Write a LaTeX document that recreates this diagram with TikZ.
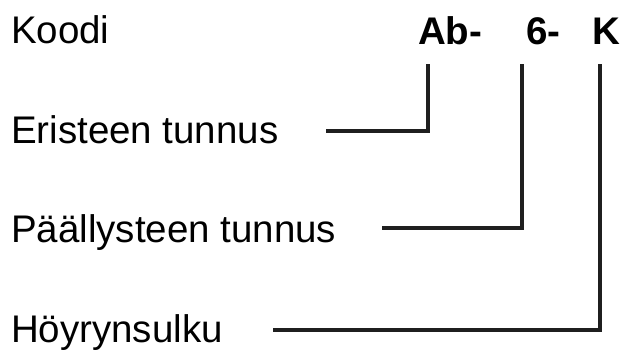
\documentclass[tikz,border=0pt]{standalone}
\usepackage{fontspec}
\setmainfont{Liberation Sans}
\begin{document}
\begin{tikzpicture}[x=1pt,y=-1pt,
  lbl/.style={anchor=base west,inner sep=0pt,outer sep=0pt,font=\fontsize{38.5}{46}\selectfont},
  code/.style={lbl,font=\fontsize{38.5}{46}\selectfont\bfseries},
  conn/.style={line width=3.7pt,color=black!88,line cap=rect,line join=miter}]
\useasboundingbox (0,0) rectangle (621,350);
\node[lbl] (koodi) at (11,44) {Koodi};
\node[lbl] (eris) at (11,143) {Eristeen tunnus};
\node[lbl] (paal) at (11,242.5) {Päällysteen tunnus};
\node[lbl] (hoyr) at (11,342) {Höyrynsulku};
\node[code] (ab) at (418,45) {Ab-};
\node[code] (six) at (526,45) {6-};
\node[code] (kk) at (592,45) {K};
\coordinate (s1) at (328,131);
\coordinate (t1) at (428,66);
\coordinate (s2) at (384,228);
\coordinate (t2) at (522,66);
\coordinate (s3) at (275,330);
\coordinate (t3) at (600,66);
\draw[conn] (s1) -| (t1);
\draw[conn] (s2) -| (t2);
\draw[conn] (s3) -| (t3);
\end{tikzpicture}
\end{document}
